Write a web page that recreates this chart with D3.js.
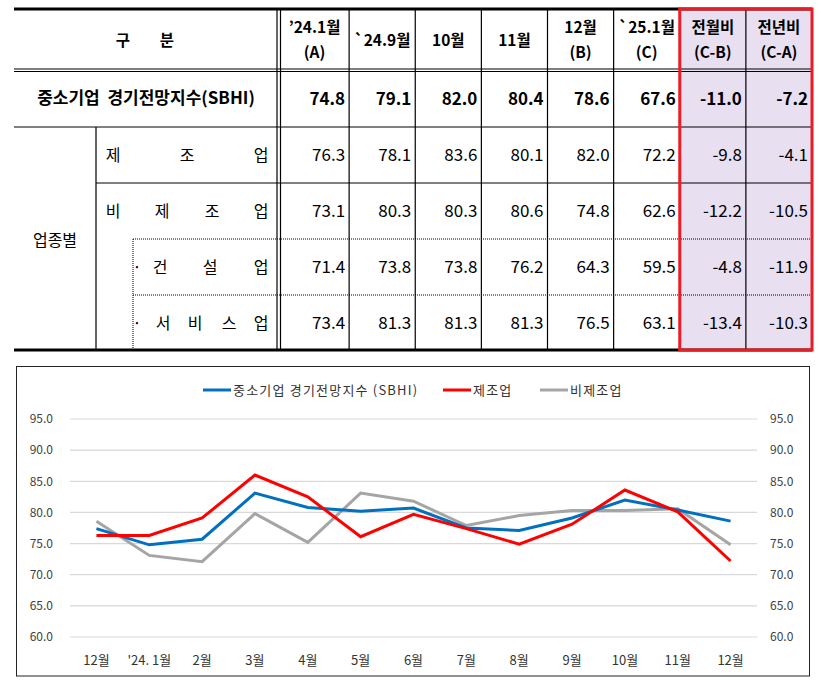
<!DOCTYPE html>
<html><head><meta charset="utf-8">
<script src="https://cdn.jsdelivr.net/npm/d3@7"></script>
<style>
html,body{margin:0;padding:0;background:#fff;}
svg{display:block;font-family:"Noto Sans CJK KR","Noto Sans",sans-serif;}
</style></head>
<body><svg id="c" width="821" height="684"></svg>
<script>
// ---------- table data ----------
const colHeaders = [["’24.1월","(A)"],["`24.9월"],["10월"],["11월"],["12월","(B)"],["`25.1월","(C)"],["전월비","(C-B)"],["전년비","(C-A)"]];
const rowSBHI    = [74.8, 79.1, 82.0, 80.4, 78.6, 67.6, -11.0, -7.2];
const rowMfg     = [76.3, 78.1, 83.6, 80.1, 82.0, 72.2, -9.8, -4.1];
const rowNonMfg  = [73.1, 80.3, 80.3, 80.6, 74.8, 62.6, -12.2, -10.5];
const rowConst   = [71.4, 73.8, 73.8, 76.2, 64.3, 59.5, -4.8, -11.9];
const rowService = [73.4, 81.3, 81.3, 81.3, 76.5, 63.1, -13.4, -10.3];

// ---------- chart data ----------
const months = ["12월","'24. 1월","2월","3월","4월","5월","6월","7월","8월","9월","10월","11월","12월"];
const seriesNames = ["중소기업 경기전망지수 (SBHI)","제조업","비제조업"];
const sbhi    = [77.4, 74.8, 75.7, 83.1, 80.8, 80.2, 80.7, 77.5, 77.1, 79.1, 82.0, 80.4, 78.6];
const mfg     = [76.3, 76.3, 79.1, 86.0, 82.5, 76.1, 79.7, 77.4, 74.9, 78.1, 83.6, 80.1, 72.2];
const nonMfg  = [78.6, 73.1, 72.1, 79.8, 75.2, 83.1, 81.8, 77.9, 79.5, 80.3, 80.3, 80.6, 74.8];
const yTicks  = [60, 65, 70, 75, 80, 85, 90, 95];
const colors  = ["#0070c0", "#ff0000", "#a5a5a5"];

const svg = d3.select("#c");

// ================= TABLE =================
const T = {left:14, right:812, rows:[9,70,127,183,239,295,350]};
const xc = d3.scaleBand().domain(d3.range(8)).range([283, T.right]);
const g = svg.append("g");
const RED = "#ed1c24";

g.append("rect").attr("x", xc(6)).attr("y", T.rows[0]).attr("width", T.right - xc(6)).attr("height", T.rows[6]-T.rows[0]).attr("fill", "#e8dff0");

function hline(x1,x2,y,w,dash){ const l=g.append("line").attr("x1",x1).attr("x2",x2).attr("y1",y).attr("y2",y).attr("stroke","#000").attr("stroke-width",w); if(dash) l.attr("stroke-dasharray",dash); return l;}
function vline(x,y1,y2,w,dash){ const l=g.append("line").attr("x1",x).attr("x2",x).attr("y1",y1).attr("y2",y2).attr("stroke","#000").attr("stroke-width",w); if(dash) l.attr("stroke-dasharray",dash); return l;}

hline(T.left, T.right, T.rows[0], 3);
hline(T.left, T.right, T.rows[1]-1, 1);
hline(T.left, T.right, T.rows[1]+1.5, 1);
hline(T.left, T.right, T.rows[2], 1.2);
hline(96, T.right, T.rows[3], 1.2);
hline(133, T.right, T.rows[4], 1, "1,1");
hline(133, T.right, T.rows[5], 1, "1,1");
hline(T.left, T.right, T.rows[6], 3);
vline(96, T.rows[2], T.rows[6], 1.2);
vline(133, T.rows[4], T.rows[6], 1, "1,1");
vline(277, T.rows[0], T.rows[6], 1.2);
vline(280.5, T.rows[0], T.rows[6], 1.2);
for (let i=1;i<8;i++) if(i!==6) vline(xc(i), T.rows[0], T.rows[6], 1.2);

g.append("rect").attr("x", xc(6)).attr("y", T.rows[0]).attr("width", T.right - xc(6)).attr("height", T.rows[6]-T.rows[0])
 .attr("fill","none").attr("stroke",RED).attr("stroke-width",3);

// header texts
const hdr = g.append("g").attr("font-weight","bold").attr("font-size",15.5).attr("text-anchor","middle").attr("fill","#000");
hdr.append("text").attr("x",123).attr("y",46).text("구");
hdr.append("text").attr("x",167).attr("y",46).text("분");
colHeaders.forEach((h,i)=>{
  const cx = xc(i)+xc.bandwidth()/2 - (i===0?1.5:0);
  if (h.length===1) hdr.append("text").attr("x",cx).attr("y",46).text(h[0]);
  else { hdr.append("text").attr("x",cx).attr("y",33).text(h[0]); hdr.append("text").attr("x",cx).attr("y",58).text(h[1]); }
});

// row labels
const lab = g.append("g").attr("font-size",16).attr("text-anchor","middle").attr("fill","#000");
g.append("text").attr("x",146).attr("y",104).attr("text-anchor","middle").attr("font-weight","bold").attr("font-size",17)
 .style("white-space","pre").text("중소기업  경기전망지수(SBHI)");
function spaced(chars, xs, y){ chars.forEach((c,i)=>lab.append("text").attr("x",xs[i]).attr("y",y).text(c)); }
spaced(["제","조","업"],[113,187,261],161);
spaced(["비","제","조","업"],[113,162,212,261],217);
spaced(["·","건","설","업"],[137,160,210,261],273);
spaced(["·","서","비","스","업"],[137,163,195,229,261],329);
lab.append("text").attr("x",55).attr("y",246).text("업종별");

// values
const rowsData = [rowSBHI,rowMfg,rowNonMfg,rowConst,rowService];
rowsData.forEach((row,r)=>{
  const y0 = T.rows[r+1], y1 = T.rows[r+2];
  row.forEach((v,i)=>{
    g.append("text").attr("x", xc(i)+xc.bandwidth()-4).attr("y",(y0+y1)/2+6)
     .attr("text-anchor","end").attr("font-size",17).attr("font-weight", r===0?"bold":"normal")
     .attr("fill","#000").text(v.toFixed(1));
  });
});

// ================= CHART =================
svg.append("rect").attr("x",16.5).attr("y",366.5).attr("width",793).attr("height",309.5).attr("fill","#fff").attr("stroke","#222").attr("stroke-width",1);
const P = {l:70, r:757, t:419, b:637};
const x = d3.scaleBand().domain(d3.range(months.length)).range([P.l,P.r]);
const y = d3.scaleLinear().domain([60,95]).range([P.b,P.t]);

const cg = svg.append("g");
cg.selectAll("line.grid").data(yTicks).join("line").attr("class","grid")
  .attr("x1",P.l).attr("x2",P.r).attr("y1",d=>y(d)).attr("y2",d=>y(d)).attr("stroke","#d9d9d9").attr("stroke-width",1.2);

const yl = d3.axisLeft(y).tickValues(yTicks).tickFormat(d3.format(".1f")).tickSize(0).tickPadding(17);
const yr = d3.axisRight(y).tickValues(yTicks).tickFormat(d3.format(".1f")).tickSize(0).tickPadding(13);
const gl = cg.append("g").attr("transform",`translate(${P.l},0)`).call(yl);
const gr = cg.append("g").attr("transform",`translate(${P.r},0)`).call(yr);
[gl,gr].forEach(a=>{ a.select(".domain").remove(); a.selectAll("text").attr("font-size",12).attr("fill","#404040").attr("font-family","Noto Sans CJK KR"); });

const xa = d3.axisBottom(x).tickFormat(i=>months[i]).tickSize(0).tickPadding(19);
const gx = cg.append("g").attr("transform",`translate(0,${P.b})`).call(xa);
gx.select(".domain").remove();
gx.selectAll("text").attr("font-size",13).attr("fill","#333").attr("font-family","Noto Sans CJK KR");

const line = d3.line().x((d,i)=>x(i)+x.bandwidth()/2).y(d=>y(d));
[[nonMfg,2],[sbhi,0],[mfg,1]].forEach(([s,idx])=>{
  cg.append("path").datum(s).attr("d",line).attr("fill","none").attr("stroke",colors[idx]).attr("stroke-width",3).attr("stroke-linejoin","miter");
});

// legend
const leg = [{x:203,t:seriesNames[0]},{x:443,t:seriesNames[1]},{x:540,t:seriesNames[2]}];
leg.forEach((l,i)=>{
  cg.append("line").attr("x1",l.x).attr("x2",l.x+28).attr("y1",390).attr("y2",390).attr("stroke",colors[i]).attr("stroke-width",3);
  cg.append("text").attr("x",l.x+30).attr("y",395).attr("font-size",13).attr("letter-spacing",1.2).attr("fill","#333").text(l.t);
});
</script></body></html>
